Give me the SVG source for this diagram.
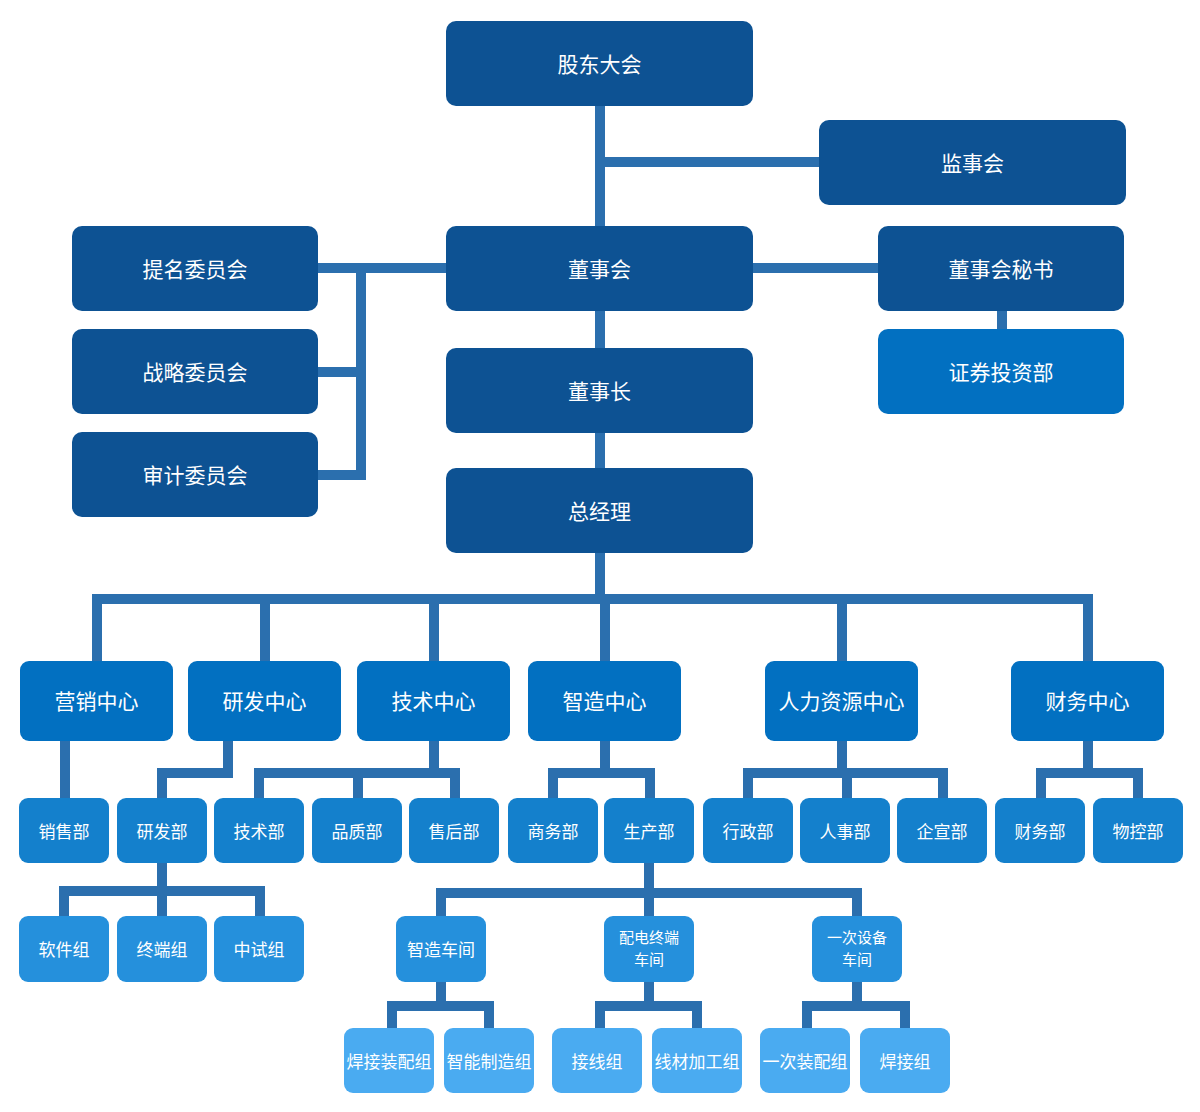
<svg xmlns="http://www.w3.org/2000/svg" width="1200" height="1112" viewBox="0 0 1200 1112">
<style>
text{font-family:"Noto Sans CJK SC","Noto Sans",sans-serif;fill:#ffffff;text-anchor:middle;dominant-baseline:central}
.t1{font-size:21px}
.t2{font-size:21px}
.t3{font-size:17px}
.t4{font-size:15px}
.dk{fill:#0d5293}
.c2{fill:#0270c1}
.c3{fill:#1480cc}
.c4{fill:#2590dc}
.c5{fill:#4aabf1}
.ln{fill:none;stroke:#2b6fae;stroke-width:10;stroke-linejoin:miter;stroke-linecap:butt}
</style>
<rect width="1200" height="1112" fill="#ffffff"/>
<g id="connectors" class="ln">
<path d="M600 106V226M600 162H819M600 311V348M600 433V468M600 553V599"/>
<path d="M318 268H446M361 268V480M318 372H361M318 475H366"/>
<path d="M753 268H878M1002 311V329"/>
<path d="M97 661V599H1088V661M265 599V661M434 599V661M605 599V661M842 599V661"/>
<path d="M65 741V798"/>
<path d="M228 741V773H162V798"/>
<path d="M434 741V773M259 798V773H455V798M358 773V798"/>
<path d="M605 741V773M553 798V773H650V798"/>
<path d="M842 741V773M748 798V773H943V798M847 773V798"/>
<path d="M1088 741V773M1041 798V773H1138V798"/>
<path d="M162 863V891M64 916V891H260V916M162 891V916"/>
<path d="M649 863V893M441 916V893H857V916M649 893V916"/>
<path d="M441 982V1006M392 1028V1006H489V1028"/>
<path d="M649 982V1006M600 1028V1006H697V1028"/>
<path d="M857 982V1006M807 1028V1006H905V1028"/>
</g>
<g id="n-gudong"><rect class="dk" x="446" y="21" width="307" height="85" rx="10"/><text class="t1" x="599.5" y="63">股东大会</text></g>
<g id="n-jianshi"><rect class="dk" x="819" y="120" width="307" height="85" rx="10"/><text class="t1" x="972.5" y="162">监事会</text></g>
<g id="n-dongshi"><rect class="dk" x="446" y="226" width="307" height="85" rx="10"/><text class="t1" x="599.5" y="268">董事会</text></g>
<g id="n-timing"><rect class="dk" x="72" y="226" width="246" height="85" rx="10"/><text class="t1" x="195" y="268">提名委员会</text></g>
<g id="n-zhanlue"><rect class="dk" x="72" y="329" width="246" height="85" rx="10"/><text class="t1" x="195" y="371">战略委员会</text></g>
<g id="n-shenji"><rect class="dk" x="72" y="432" width="246" height="85" rx="10"/><text class="t1" x="195" y="474">审计委员会</text></g>
<g id="n-mishu"><rect class="dk" x="878" y="226" width="246" height="85" rx="10"/><text class="t1" x="1001" y="268">董事会秘书</text></g>
<g id="n-zhengquan"><rect class="c2" x="878" y="329" width="246" height="85" rx="10"/><text class="t1" x="1001" y="371">证券投资部</text></g>
<g id="n-dongshizhang"><rect class="dk" x="446" y="348" width="307" height="85" rx="10"/><text class="t1" x="599.5" y="390">董事长</text></g>
<g id="n-zongjingli"><rect class="dk" x="446" y="468" width="307" height="85" rx="10"/><text class="t1" x="599.5" y="510">总经理</text></g>
<g id="n-yingxiao"><rect class="c2" x="20" y="661" width="153" height="80" rx="9"/><text class="t2" x="96.5" y="700">营销中心</text></g>
<g id="n-yanfa"><rect class="c2" x="188" y="661" width="153" height="80" rx="9"/><text class="t2" x="264.5" y="700">研发中心</text></g>
<g id="n-jishu"><rect class="c2" x="357" y="661" width="153" height="80" rx="9"/><text class="t2" x="433.5" y="700">技术中心</text></g>
<g id="n-zhizao"><rect class="c2" x="528" y="661" width="153" height="80" rx="9"/><text class="t2" x="604.5" y="700">智造中心</text></g>
<g id="n-renli"><rect class="c2" x="765" y="661" width="153" height="80" rx="9"/><text class="t2" x="841.5" y="700">人力资源中心</text></g>
<g id="n-caiwu"><rect class="c2" x="1011" y="661" width="153" height="80" rx="9"/><text class="t2" x="1087.5" y="700">财务中心</text></g>
<g id="n-xiaoshou"><rect class="c3" x="19" y="798" width="90" height="65" rx="9"/><text class="t3" x="64" y="830">销售部</text></g>
<g id="n-yanfabu"><rect class="c3" x="117" y="798" width="90" height="65" rx="9"/><text class="t3" x="162" y="830">研发部</text></g>
<g id="n-jishubu"><rect class="c3" x="214" y="798" width="90" height="65" rx="9"/><text class="t3" x="259" y="830">技术部</text></g>
<g id="n-pinzhi"><rect class="c3" x="312" y="798" width="90" height="65" rx="9"/><text class="t3" x="357" y="830">品质部</text></g>
<g id="n-shouhou"><rect class="c3" x="409" y="798" width="90" height="65" rx="9"/><text class="t3" x="454" y="830">售后部</text></g>
<g id="n-shangwu"><rect class="c3" x="508" y="798" width="90" height="65" rx="9"/><text class="t3" x="553" y="830">商务部</text></g>
<g id="n-shengchan"><rect class="c3" x="604" y="798" width="90" height="65" rx="9"/><text class="t3" x="649" y="830">生产部</text></g>
<g id="n-xingzheng"><rect class="c3" x="703" y="798" width="90" height="65" rx="9"/><text class="t3" x="748" y="830">行政部</text></g>
<g id="n-renshi"><rect class="c3" x="800" y="798" width="90" height="65" rx="9"/><text class="t3" x="845" y="830">人事部</text></g>
<g id="n-qixuan"><rect class="c3" x="897" y="798" width="90" height="65" rx="9"/><text class="t3" x="942" y="830">企宣部</text></g>
<g id="n-caiwubu"><rect class="c3" x="995" y="798" width="90" height="65" rx="9"/><text class="t3" x="1040" y="830">财务部</text></g>
<g id="n-wukong"><rect class="c3" x="1093" y="798" width="90" height="65" rx="9"/><text class="t3" x="1138" y="830">物控部</text></g>
<g id="n-ruanjian"><rect class="c4" x="19" y="916" width="90" height="66" rx="9"/><text class="t3" x="64" y="948">软件组</text></g>
<g id="n-zhongduan"><rect class="c4" x="117" y="916" width="90" height="66" rx="9"/><text class="t3" x="162" y="948">终端组</text></g>
<g id="n-zhongshi"><rect class="c4" x="214" y="916" width="90" height="66" rx="9"/><text class="t3" x="259" y="948">中试组</text></g>
<g id="n-zhizaochejian"><rect class="c4" x="396" y="916" width="90" height="66" rx="9"/><text class="t3" x="441" y="948">智造车间</text></g>
<g id="n-peidian"><rect class="c4" x="604" y="916" width="90" height="66" rx="9"/><text class="t4" x="649" y="936.5">配电终端</text><text class="t4" x="649" y="958.5">车间</text></g>
<g id="n-yici"><rect class="c4" x="812" y="916" width="90" height="66" rx="9"/><text class="t4" x="857" y="936.5">一次设备</text><text class="t4" x="857" y="958.5">车间</text></g>
<g id="n-hanjiezhuangpei"><rect class="c5" x="344" y="1028" width="90" height="65" rx="9"/><text class="t3" x="389" y="1060">焊接装配组</text></g>
<g id="n-zhineng"><rect class="c5" x="444" y="1028" width="90" height="65" rx="9"/><text class="t3" x="489" y="1060">智能制造组</text></g>
<g id="n-jiexian"><rect class="c5" x="552" y="1028" width="90" height="65" rx="9"/><text class="t3" x="597" y="1060">接线组</text></g>
<g id="n-xiancai"><rect class="c5" x="652" y="1028" width="90" height="65" rx="9"/><text class="t3" x="697" y="1060">线材加工组</text></g>
<g id="n-yicizhuangpei"><rect class="c5" x="760" y="1028" width="90" height="65" rx="9"/><text class="t3" x="805" y="1060">一次装配组</text></g>
<g id="n-hanjie"><rect class="c5" x="860" y="1028" width="90" height="65" rx="9"/><text class="t3" x="905" y="1060">焊接组</text></g>
</svg>
